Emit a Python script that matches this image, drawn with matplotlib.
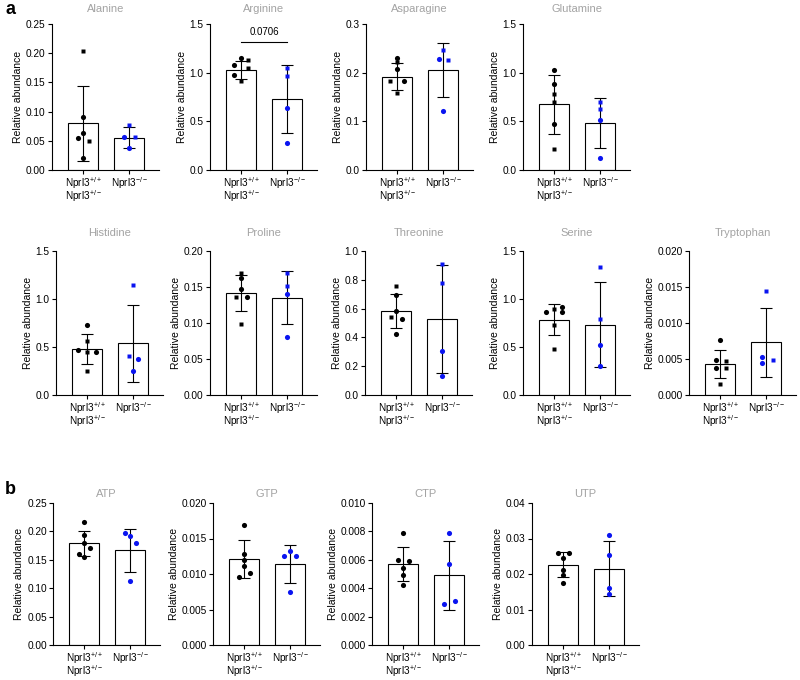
import numpy as np
import matplotlib
matplotlib.use('Agg')
import matplotlib.pyplot as plt

plt.rcParams.update({
    'font.family': ['Liberation Sans', 'DejaVu Sans'],
    'mathtext.fontset': 'custom',
    'mathtext.rm': 'Liberation Sans',
    'mathtext.it': 'Liberation Sans:italic',
    'mathtext.bf': 'Liberation Sans:bold',
    'font.size': 7,
    'axes.linewidth': 0.8,
})

# ---------------------------------------------------------------------------
# data: group means, SDs and individual samples
# ---------------------------------------------------------------------------
groups = ["Nprl3$^{+/+}$\nNprl3$^{+/-}$", "Nprl3$^{-/-}$"]

row_a1 = ["Alanine", "Arginine", "Asparagine", "Glutamine"]
row_a2 = ["Histidine", "Proline", "Threonine", "Serine", "Tryptophan"]
row_b = ["ATP", "GTP", "CTP", "UTP"]

# (ymax, tick step, tick format)
yaxis = {
    "Alanine": (0.25, 0.05, "%.2f"), "Arginine": (1.5, 0.5, "%.1f"),
    "Asparagine": (0.3, 0.1, "%.1f"), "Glutamine": (1.5, 0.5, "%.1f"),
    "Histidine": (1.5, 0.5, "%.1f"), "Proline": (0.20, 0.05, "%.2f"),
    "Threonine": (1.0, 0.2, "%.1f"), "Serine": (1.5, 0.5, "%.1f"),
    "Tryptophan": (0.020, 0.005, "%.3f"),
    "ATP": (0.25, 0.05, "%.2f"), "GTP": (0.020, 0.005, "%.3f"),
    "CTP": (0.010, 0.002, "%.3f"), "UTP": (0.04, 0.01, "%.2f"),
}

means = {
    "Alanine": (0.080, 0.055), "Arginine": (1.03, 0.73),
    "Asparagine": (0.192, 0.205), "Glutamine": (0.674, 0.484),
    "Histidine": (0.478, 0.537), "Proline": (0.141, 0.135),
    "Threonine": (0.585, 0.530), "Serine": (0.786, 0.734),
    "Tryptophan": (0.0043, 0.0073),
    "ATP": (0.179, 0.167), "GTP": (0.0121, 0.0114),
    "CTP": (0.0057, 0.0049), "UTP": (0.0226, 0.0215),
}

sds = {
    "Alanine": (0.064, 0.018), "Arginine": (0.095, 0.353),
    "Asparagine": (0.028, 0.056), "Glutamine": (0.300, 0.254),
    "Histidine": (0.156, 0.405), "Proline": (0.025, 0.037),
    "Threonine": (0.118, 0.374), "Serine": (0.165, 0.44),
    "Tryptophan": (0.0020, 0.0048),
    "ATP": (0.022, 0.038), "GTP": (0.0027, 0.0027),
    "CTP": (0.0012, 0.0024), "UTP": (0.0035, 0.0078),
}

wt_pts = {
    "Alanine": [0.203, 0.091, 0.064, 0.055, 0.050, 0.020],
    "Arginine": [1.15, 1.13, 1.08, 1.05, 0.98, 0.91],
    "Asparagine": [0.231, 0.221, 0.207, 0.183, 0.183, 0.158],
    "Glutamine": [1.027, 0.882, 0.785, 0.698, 0.474, 0.214],
    "Histidine": [0.731, 0.562, 0.468, 0.443, 0.447, 0.253],
    "Proline": [0.169, 0.163, 0.147, 0.136, 0.136, 0.099],
    "Threonine": [0.760, 0.696, 0.585, 0.539, 0.530, 0.426],
    "Serine": [0.921, 0.893, 0.869, 0.862, 0.731, 0.483],
    "Tryptophan": [0.0076, 0.0049, 0.0047, 0.0038, 0.0038, 0.0015],
    "ATP": [0.216, 0.194, 0.179, 0.170, 0.160, 0.155],
    "GTP": [0.0169, 0.0128, 0.0120, 0.0111, 0.0101, 0.0096],
    "CTP": [0.0079, 0.0060, 0.0059, 0.0054, 0.0049, 0.0042],
    "UTP": [0.0260, 0.0260, 0.0244, 0.0212, 0.0198, 0.0174],
}

ko_pts = {
    "Alanine": [0.077, 0.057, 0.056, 0.037],
    "Arginine": [1.045, 0.97, 0.634, 0.274],
    "Asparagine": [0.246, 0.228, 0.226, 0.122],
    "Glutamine": [0.698, 0.622, 0.518, 0.121],
    "Histidine": [1.143, 0.405, 0.371, 0.253],
    "Proline": [0.169, 0.152, 0.140, 0.081],
    "Threonine": [0.908, 0.776, 0.304, 0.131],
    "Serine": [1.338, 0.793, 0.517, 0.303],
    "Tryptophan": [0.0145, 0.0053, 0.0049, 0.0045],
    "ATP": [0.197, 0.192, 0.179, 0.112],
    "GTP": [0.0133, 0.0126, 0.0126, 0.0074],
    "CTP": [0.0079, 0.0057, 0.0031, 0.0029],
    "UTP": [0.0310, 0.0253, 0.0160, 0.0145],
}

# marker per sample: c = circle, s = square
wt_mk = {
    "Alanine": "scccsc", "Arginine": "cscscs", "Asparagine": "cscscs",
    "Glutamine": "ccsscs", "Histidine": "cscscs", "Proline": "sccscs",
    "Threonine": "sccscc", "Serine": "csccss", "Tryptophan": "ccscss",
    "ATP": "cccccc", "GTP": "cccccc", "CTP": "cccccc", "UTP": "cccccc",
}
ko_mk = {
    "Alanine": "scsc", "Arginine": "sscc", "Asparagine": "scsc",
    "Glutamine": "sscc", "Histidine": "sscc", "Proline": "sscc",
    "Threonine": "sscc", "Serine": "sscc", "Tryptophan": "scsc",
    "ATP": "cccc", "GTP": "cccc", "CTP": "cccc", "UTP": "cccc",
}

# horizontal scatter of the dots (layout only)
wt_dx = {
    "Alanine": [0, 0, 0, -0.12, 0.12, 0], "Arginine": [0, 0.15, -0.15, 0.15, -0.15, 0],
    "Asparagine": [0, 0, 0, -0.15, 0.15, 0], "Glutamine": [0] * 6,
    "Histidine": [0, 0, -0.2, 0, 0.2, 0], "Proline": [0, 0, 0, -0.12, 0.12, 0],
    "Threonine": [0, 0, 0, -0.12, 0.12, 0], "Serine": [0.18, 0, -0.18, 0.18, 0, 0],
    "Tryptophan": [0, -0.1, 0.12, -0.1, 0.12, 0],
    "ATP": [0, 0, 0, 0.12, -0.12, 0], "GTP": [0, 0, 0, 0, 0.12, -0.12],
    "CTP": [0, -0.12, 0.12, 0, 0, 0], "UTP": [-0.12, 0.12, 0, 0, 0, 0],
}
ko_dx = {
    "Alanine": [0, -0.12, 0.12, 0], "Arginine": [0] * 4,
    "Asparagine": [0, -0.1, 0.1, 0], "Glutamine": [0] * 4,
    "Histidine": [0, -0.1, 0.1, 0], "Proline": [0] * 4,
    "Threonine": [0] * 4, "Serine": [0] * 4,
    "Tryptophan": [0, -0.1, 0.15, -0.1],
    "ATP": [-0.12, 0, 0.12, 0], "GTP": [0, -0.13, 0.13, 0],
    "CTP": [0, 0, 0.12, -0.12], "UTP": [0] * 4,
}

# ---------------------------------------------------------------------------
W, H = 800, 680
fig = plt.figure(figsize=(W / 100, H / 100), dpi=100)

AX_W = 107
rows = [
    (row_a1, [52, 210, 366, 523], 24, 170, 9),
    (row_a2, [56, 210, 365, 523, 689], 251, 395, 10.5),
    (row_b, [53, 213, 372, 532], 503, 645, 4),
]

BLUE = "#0a14f0"
for names, lefts, top, bottom, tpad in rows:
    for name, left in zip(names, lefts):
        ax = fig.add_axes([left / W, 1 - bottom / H, AX_W / W, (bottom - top) / H])
        ymax, step, fmt = yaxis[name]
        m = means[name]
        s = sds[name]
        ax.bar([0, 1], m, width=0.66, color="white", edgecolor="black",
               linewidth=0.8, zorder=1)
        ax.errorbar([0, 1], m, yerr=s, fmt="none", ecolor="black",
                    elinewidth=0.8, capsize=4.2, capthick=0.8, zorder=2)
        for gi, (pts, mks, dxs, col) in enumerate([
                (wt_pts[name], wt_mk[name], wt_dx[name], "black"),
                (ko_pts[name], ko_mk[name], ko_dx[name], BLUE)]):
            for v, mk, dx in zip(pts, mks, dxs):
                ax.plot(gi + dx, v, ls="none",
                        marker="s" if mk == "s" else "o",
                        ms=3.3 if mk == "s" else 3.7,
                        color=col, mec="none", zorder=3)

        ax.set_xlim(-0.68, 1.65)
        ax.set_ylim(0, ymax)
        ticks = np.arange(0, ymax + step / 2, step)
        ax.set_yticks(ticks)
        ax.set_yticklabels([fmt % t for t in ticks])
        ax.set_xticks([0, 1])
        ax.set_xticklabels(groups, fontsize=7.2, linespacing=0.82)
        ax.tick_params(axis="y", length=3, width=0.8, pad=1.5, labelsize=7.3)
        ax.tick_params(axis="x", length=3, width=0.8, pad=0.5)
        for sp in ("top", "right"):
            ax.spines[sp].set_visible(False)
        ax.set_ylabel("Relative abundance", fontsize=7.5, labelpad=2)
        ax.set_title(name, color="#a3a3a3", fontsize=8, pad=tpad)

        if name == "Arginine":
            yb = 1.32
            ax.plot([0, 1], [yb, yb], color="black", lw=0.8)
            ax.text(0.5, yb + 0.05, "0.0706", ha="center", va="bottom",
                    fontsize=7)

fig.text(5 / W, 1 - 14 / H, "a", fontsize=13, fontweight="bold")
fig.text(5 / W, 1 - 494 / H, "b", fontsize=13, fontweight="bold")

fig.savefig("out.png", dpi=100)
